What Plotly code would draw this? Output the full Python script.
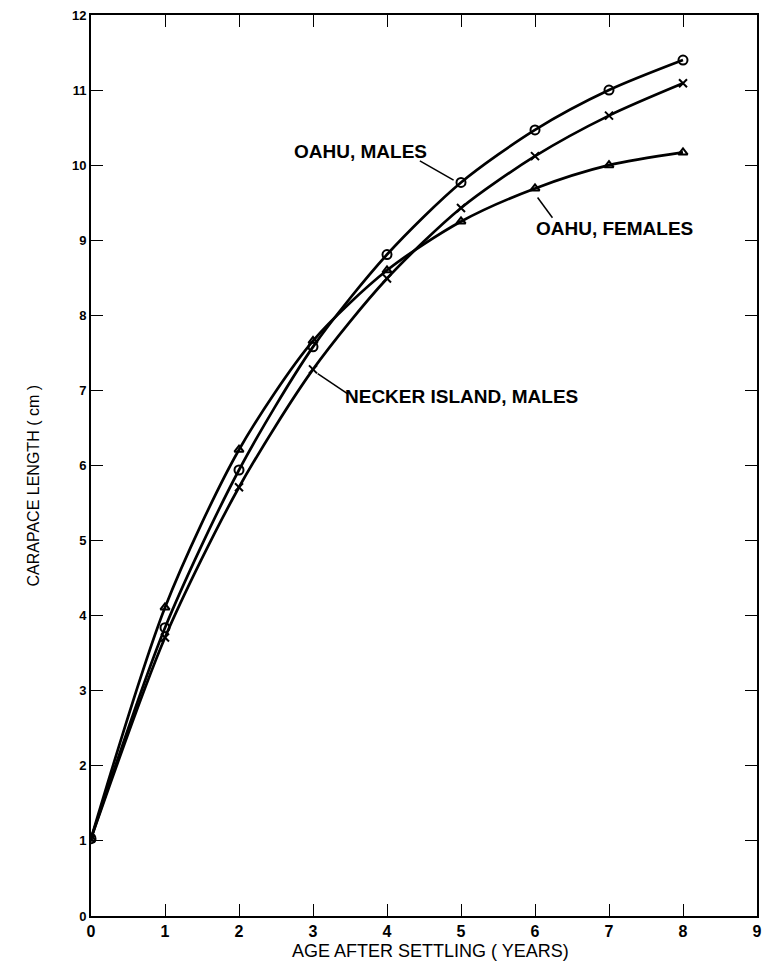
import plotly.graph_objects as go

ages = [0, 1, 2, 3, 4, 5, 6, 7, 8]
oahu_males = [1.03, 3.84, 5.94, 7.58, 8.81, 9.77, 10.47, 11.0, 11.4]
oahu_females = [1.03, 4.11, 6.21, 7.66, 8.60, 9.25, 9.69, 10.0, 10.17]
necker_males = [1.03, 3.71, 5.71, 7.28, 8.49, 9.43, 10.12, 10.66, 11.09]

x_ticks = list(range(0, 10))
y_ticks = list(range(0, 13))

label_names = ["OAHU, MALES", "OAHU, FEMALES", "NECKER ISLAND, MALES"]
label_pos = [(3.646, 10.18), (7.08, 9.15), (5.0, 6.92)]
leader_lines = [((4.444, 10.057), (4.90, 9.80)),
                ((6.035, 9.57), (6.236, 9.30)),
                ((3.063, 7.223), (3.465, 6.957))]

fig = go.Figure()

series = [
    (oahu_males, "circle-open", 9),
    (necker_males, "x-thin-open", 8),
    (oahu_females, "triangle-up-open", 8),
]
for vals, sym, sz in series:
    fig.add_trace(go.Scatter(
        x=ages, y=vals, mode="lines+markers",
        line=dict(color="black", width=2.7, shape="spline", smoothing=0.8),
        marker=dict(symbol=sym, size=sz, color="black",
                    line=dict(color="black", width=2)),
        showlegend=False,
    ))

for name, (lx, ly) in zip(label_names, label_pos):
    fig.add_annotation(x=lx, y=ly, xref="x", yref="y", text=name,
                       showarrow=False, xanchor="center", yanchor="middle",
                       font=dict(family="Liberation Sans", size=19, color="black",
                                 weight="bold"))

for (x0, y0), (x1, y1) in leader_lines:
    fig.add_shape(type="line", x0=x0, y0=y0, x1=x1, y1=y1, xref="x", yref="y",
                  line=dict(color="black", width=1.5))

# axis titles
fig.add_annotation(x=433, y=963, xref="paper", yref="paper",
                   text="AGE AFTER SETTLING ( YEARS)", showarrow=False,
                   font=dict(family="Liberation Sans", size=18, color="black"))
fig.add_annotation(x=22, y=485, xref="paper", yref="paper",
                   text="CARAPACE LENGTH ( cm )", showarrow=False, textangle=-90,
                   font=dict(family="Liberation Sans", size=16, color="black"))

W, H = 770, 975
ml, mr, mt, mb = 91, 8, 14, 59
# convert the pixel positions of axis titles to paper coords
for ann in fig.layout.annotations:
    if ann.xref == "paper":
        px, py = ann.x, ann.y
        ann.x = (px - ml) / (W - ml - mr)
        ann.y = (H - mb - py) / (H - mt - mb)

fig.update_layout(
    width=W, height=H,
    margin=dict(l=ml, r=mr, t=mt, b=mb),
    paper_bgcolor="white", plot_bgcolor="white",
    font=dict(family="Liberation Sans", color="black"),
)
fig.update_xaxes(range=[0, 9], tickvals=x_ticks, ticktext=[str(v) for v in x_ticks],
                 ticks="inside", ticklen=12, tickwidth=1, tickcolor="black",
                 showline=True, linecolor="black", linewidth=2, mirror="ticks",
                 showgrid=False, zeroline=False,
                 tickfont=dict(family="Liberation Sans", size=16, color="black",
                               weight="bold"))
fig.update_yaxes(range=[0, 12], tickvals=y_ticks, ticktext=[str(v) for v in y_ticks],
                 ticks="inside", ticklen=12, tickwidth=1, tickcolor="black",
                 showline=True, linecolor="black", linewidth=2, mirror="ticks",
                 showgrid=False, zeroline=False,
                 tickfont=dict(family="Liberation Sans", size=13, color="black",
                               weight="bold"))

fig.write_html("out.html")
